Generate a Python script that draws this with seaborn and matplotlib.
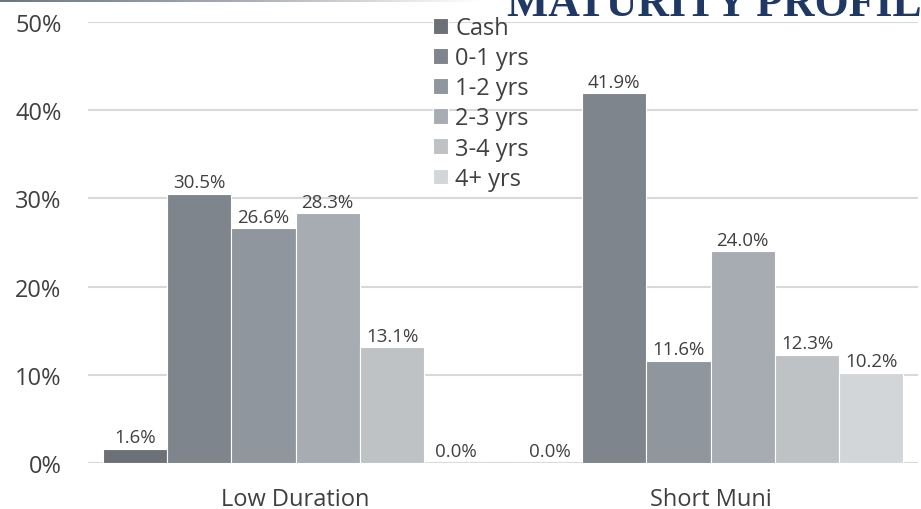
import numpy as np
import pandas as pd
import matplotlib
matplotlib.use("Agg")
import matplotlib.pyplot as plt
import seaborn as sns
from matplotlib.colors import LinearSegmentedColormap

# ---- data ----
funds = ["Low Duration", "Short Muni"]
buckets = ["Cash", "0-1 yrs", "1-2 yrs", "2-3 yrs", "3-4 yrs", "4+ yrs"]
low_duration = [1.6, 30.5, 26.6, 28.3, 13.1, 0.0]
short_muni = [0.0, 41.9, 11.6, 24.0, 12.3, 10.2]
y_ticks = [0, 10, 20, 30, 40, 50]
title_text = "MATURITY PROFILE"

colors = ["#6c7177", "#7f858c", "#8f969d", "#a6acb2", "#bec2c5", "#d3d6d8"]

rows = []
for f, vals in zip(funds, [low_duration, short_muni]):
    for b, v in zip(buckets, vals):
        rows.append({"fund": f, "bucket": b, "value": v})
df = pd.DataFrame(rows)

sns.set_theme(style="white")
plt.rcParams["font.family"] = ["Open Sans", "DejaVu Sans"]

fig = plt.figure(figsize=(9.21, 5.10), dpi=100)
ax = fig.add_axes([88 / 921, 1 - 464 / 510, (918 - 88) / 921, (464 - 23) / 510])

sns.barplot(data=df, x="fund", y="value", hue="bucket", order=funds,
            hue_order=buckets, palette=colors, width=0.93, ax=ax,
            edgecolor="white", linewidth=0.8, saturation=1, errorbar=None)

ax.set_ylim(0, 50)
ax.set_yticks(y_ticks)
ax.set_yticklabels([f"{t}%" for t in y_ticks])
ax.yaxis.grid(True, color="#d9d9d9", linewidth=1.5)
ax.set_axisbelow(True)
ax.set_xlabel("")
ax.set_ylabel("")
for s in ax.spines.values():
    s.set_visible(False)
ax.axhline(0, color="#d9d9d9", linewidth=1.5, zorder=0.5)
ax.tick_params(axis="y", length=0, pad=19, labelsize=17, labelcolor="#404040")
ax.tick_params(axis="x", length=0, pad=17, labelsize=17, labelcolor="#404040")

for cont in ax.containers:
    ax.bar_label(cont, labels=[f"{v:.1f}%" for v in cont.datavalues],
                 padding=2, fontsize=13.5, color="#404040")

leg = ax.legend(loc="upper left", bbox_to_anchor=(433 / 921, 1 - 17 / 510),
                bbox_transform=fig.transFigure, frameon=False, fontsize=17,
                handlelength=0.64, handleheight=0.64, handletextpad=0.3,
                labelspacing=0.26, borderaxespad=0, borderpad=0)
for t in leg.get_texts():
    t.set_color("#404040")

# title (cut at top edge)
fig.text(507 / 921, 1 - 16 / 510, title_text, fontsize=31.5, fontweight="bold",
         family="Liberation Serif", color="#1f3864", va="baseline", ha="left")

# gradient line at top-left
gax = fig.add_axes([0, 1 - 2.5 / 510, 480 / 921, 2.5 / 510])
grad = np.linspace(0, 1, 256)[None, :]
cmap = LinearSegmentedColormap.from_list("g", ["#6d757e", "#a7adb3", "#ffffff"])
gax.imshow(grad, aspect="auto", cmap=cmap)
gax.axis("off")

fig.savefig("out.png", dpi=100)
